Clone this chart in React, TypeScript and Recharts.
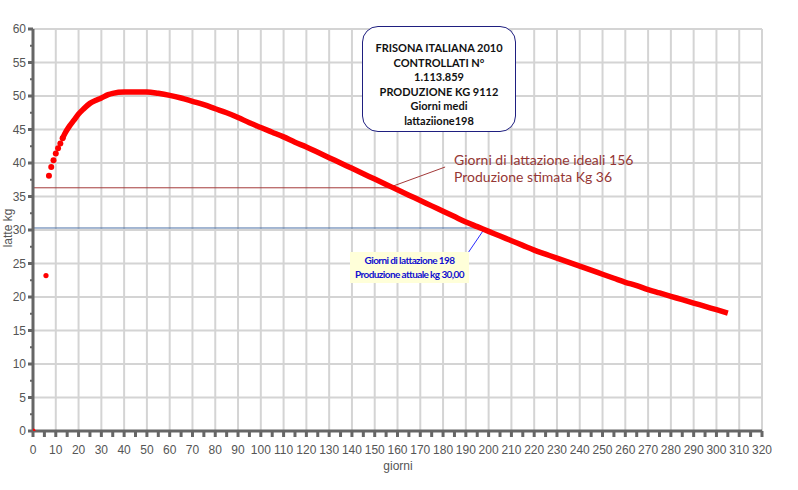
import { ComposedChart, Line, Scatter, XAxis, YAxis, ReferenceLine, CartesianGrid } from 'recharts'

// lactation curve
const earlyDays = [7, 8, 9, 10, 11, 12, 13]
const earlyYield = [38.1, 39.4, 40.4, 41.4, 42.2, 42.9, 43.7]
const curveDays = [
  13, 14, 16, 18, 20, 22, 25, 28, 30, 33, 35, 40, 45, 50, 55, 60, 65, 70, 75, 80, 85, 90, 95, 100,
  105, 110, 115, 120, 125, 130, 135, 140, 145, 150, 155, 160, 165, 170, 175, 180, 185, 190, 195,
  200, 205, 210, 215, 220, 225, 230, 235, 240, 245, 250, 255, 260, 265, 270, 275, 280, 285, 290,
  295, 300, 305,
]
const curveYield = [
  43.7, 44.4, 45.5, 46.4, 47.3, 48.0, 48.9, 49.4, 49.7, 50.2, 50.4, 50.6, 50.6, 50.6, 50.4, 50.1,
  49.7, 49.2, 48.7, 48.1, 47.5, 46.8, 46.0, 45.3, 44.6, 43.9, 43.1, 42.4, 41.6, 40.8, 40.0, 39.2,
  38.4, 37.6, 36.8, 36.0, 35.2, 34.4, 33.6, 32.8, 32.0, 31.2, 30.5, 29.8, 29.1, 28.4, 27.7, 27.0,
  26.4, 25.8, 25.2, 24.6, 24.0, 23.4, 22.8, 22.2, 21.7, 21.1, 20.6, 20.1, 19.6, 19.1, 18.6, 18.1,
  17.6,
]
const otherDays = [0, 5.7]
const otherYield = [0, 23.2]

const idealDay = 156
const idealKg = 36.3
const actualDay = 198
const actualKg = 30.3

const xTicks = Array.from({ length: 65 }, (_, i) => i * 5)
const yTicks = Array.from({ length: 25 }, (_, i) => i * 2.5)
const xGrid = Array.from({ length: 32 }, (_, i) => (i + 1) * 10)
const yGrid = Array.from({ length: 12 }, (_, i) => (i + 1) * 5)

const early = earlyDays.map((d, i) => ({ day: d, kg: earlyYield[i] }))
const curve = curveDays.map((d, i) => ({ day: d, kg: curveYield[i] }))
const other = otherDays.map((d, i) => ({ day: d, kg: otherYield[i] }))

const tickFont = { fontFamily: '"Liberation Sans Narrow", "Liberation Sans", Arial, sans-serif', fontSize: 12, fill: '#555' }

function XTick(props: any) {
  const { x, y, payload } = props
  const v = payload.value
  return (
    <g>
      <line x1={x} x2={x} y1={y} y2={y + 6} stroke="#666" strokeWidth={3} />
      {v % 10 === 0 && (
        <text x={x} y={y + 23} textAnchor="middle" {...tickFont}>
          {v}
        </text>
      )}
    </g>
  )
}

function YTick(props: any) {
  const { x, y, payload } = props
  const v = payload.value
  const major = v % 5 === 0
  return (
    <g>
      <line x1={x - (major ? 5 : 3)} x2={x} y1={y} y2={y} stroke="#666" strokeWidth={major ? 3 : 2} />
      {major && (
        <text x={x - 7} y={y + 4} textAnchor="end" {...tickFont}>
          {v}
        </text>
      )}
    </g>
  )
}

function Dot(props: any) {
  const { cx, cy } = props
  return <circle cx={cx} cy={cy} r={3} fill="#ff0000" />
}

function SmallDot(props: any) {
  const { cx, cy } = props
  return <circle cx={cx} cy={cy} r={2.6} fill="#ff0000" />
}

export default function App() {
  return (
    <div style={{ position: 'absolute', left: 0, top: 0, width: 798, height: 490, background: '#fff' }}>
      <ComposedChart width={798} height={490} margin={{ top: 29, right: 36, left: 0, bottom: 0 }}>
        <CartesianGrid stroke="#d4d4d4" strokeWidth={2} verticalValues={xGrid} horizontalValues={yGrid} />
        <XAxis
          type="number"
          dataKey="day"
          domain={[0, 320]}
          ticks={xTicks}
          interval={0}
          height={59}
          tickSize={0}
          tickMargin={0}
          tickLine={false}
          tick={<XTick />}
          axisLine={{ stroke: '#666', strokeWidth: 3 }}
          allowDataOverflow
        />
        <YAxis
          type="number"
          domain={[0, 60]}
          ticks={yTicks}
          interval={0}
          width={33}
          tickSize={0}
          tickMargin={0}
          tickLine={false}
          tick={<YTick />}
          axisLine={{ stroke: '#666', strokeWidth: 3 }}
          allowDataOverflow
        />
        <ReferenceLine
          segment={[{ x: 0, y: idealKg }, { x: idealDay, y: idealKg }]}
          stroke="#a33a3a"
          strokeWidth={1}
        />
        <ReferenceLine
          segment={[{ x: 0, y: actualKg }, { x: actualDay, y: actualKg }]}
          stroke="#4a6fa5"
          strokeWidth={1}
        />
        <ReferenceLine
          segment={[{ x: idealDay, y: idealKg }, { x: 180.9, y: 39.4 }]}
          stroke="#a33a3a"
          strokeWidth={1}
        />
        <ReferenceLine
          segment={[{ x: actualDay, y: 30.1 }, { x: 190.8, y: 26.5 }]}
          stroke="#2a2aff"
          strokeWidth={1}
        />
        <Line
          data={curve}
          dataKey="kg"
          type="monotone"
          stroke="#ff0000"
          strokeWidth={5.5}
          dot={false}
          isAnimationActive={false}
        />
        <Scatter data={early} dataKey="kg" fill="#ff0000" shape={<Dot />} isAnimationActive={false} />
        <Scatter data={other} dataKey="kg" fill="#ff0000" shape={<SmallDot />} isAnimationActive={false} />
        <text
          transform="translate(12, 228) rotate(-90)"
          textAnchor="middle"
          {...tickFont}
        >
          latte kg
        </text>
        <text x={398} y={470} textAnchor="middle" {...tickFont}>
          giorni
        </text>
      </ComposedChart>

      <div
        style={{
          position: 'absolute',
          left: 362,
          top: 26,
          width: 154,
          height: 106,
          border: '1.5px solid #1f1f80',
          borderRadius: 16,
          background: '#fff',
          boxSizing: 'border-box',
          fontFamily: 'Lato, sans-serif',
          fontWeight: 700,
          fontSize: 11,
          lineHeight: '14.5px',
          textAlign: 'center',
          color: '#111',
          paddingTop: 14,
        }}
      >
        FRISONA ITALIANA 2010
        <br />
        CONTROLLATI N°
        <br />
        1.113.859
        <br />
        PRODUZIONE KG 9112
        <br />
        Giorni medi
        <br />
        lattaziione198
      </div>

      <div
        style={{
          position: 'absolute',
          left: 454,
          top: 151,
          fontFamily: 'Lato, sans-serif',
          fontSize: 14,
          lineHeight: '17px',
          color: '#953735',
          whiteSpace: 'nowrap',
        }}
      >
        Giorni di lattazione ideali 156
        <br />
        Produzione stimata Kg 36
      </div>

      <div
        style={{
          position: 'absolute',
          left: 350,
          top: 252,
          width: 119,
          height: 31,
          background: '#ffffd9',
          fontFamily: 'Lato, sans-serif',
          fontWeight: 700,
          fontSize: 10,
          letterSpacing: -0.6,
          lineHeight: '14px',
          color: '#1010d0',
          textAlign: 'center',
          paddingTop: 1,
          boxSizing: 'border-box',
          whiteSpace: 'nowrap',
        }}
      >
        Giorni di lattazione 198
        <br />
        Produzione attuale kg 30,00
      </div>
    </div>
  )
}
